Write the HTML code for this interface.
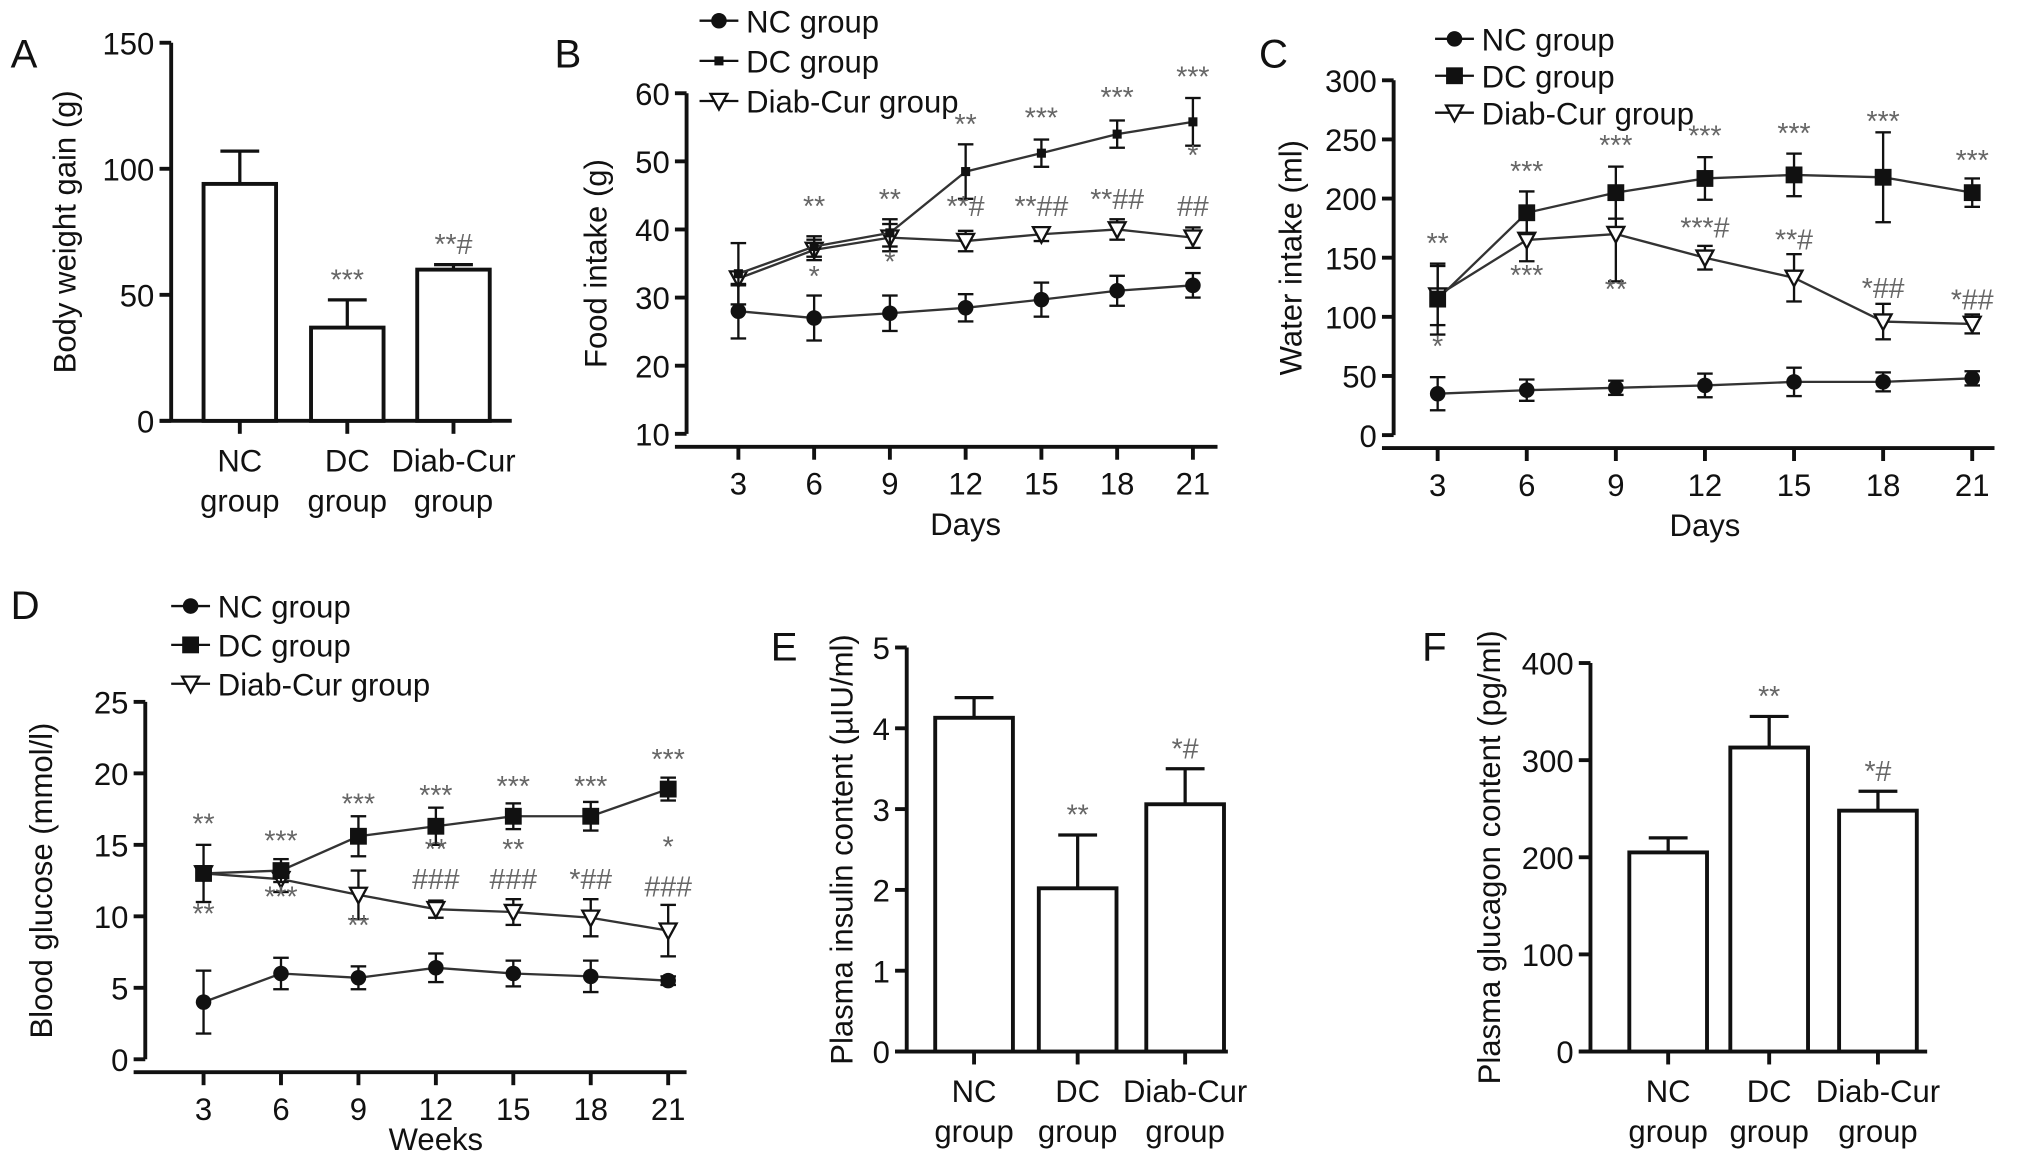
<!DOCTYPE html>
<html><head><meta charset="utf-8"><style>
html,body{margin:0;padding:0;background:#fff}
svg{display:block;font-family:"Liberation Sans",Arial,sans-serif}
</style></head><body>
<svg id="fig" width="2031" height="1159" viewBox="0 0 1568 895" xmlns="http://www.w3.org/2000/svg"></svg>
<script>
// ---- data ----
const barCats = ["NC", "DC", "Diab-Cur"];
const aVals = [94, 37, 60];
const aErrs = [13, 11, 2];
const aAnn = ["", "***", "**#"];
const eVals = [4.13, 2.02, 3.06];
const eErrs = [0.25, 0.66, 0.44];
const eAnn = ["", "**", "*#"];
const fVals = [205, 313, 248];
const fErrs = [15, 32, 20];
const fAnn = ["", "**", "*#"];
const days = [3, 6, 9, 12, 15, 18, 21];
const bNC = [28, 27, 27.7, 28.5, 29.7, 31, 31.8];
const bNCe = [4, 3.3, 2.6, 2, 2.5, 2.2, 1.8];
const bDC = [33.5, 37.5, 39.5, 48.5, 51.2, 54, 55.8];
const bDCe = [4.5, 1.5, 2, 4, 2, 2, 3.5];
const bDCur = [32.8, 37, 38.8, 38.3, 39.3, 40, 38.8];
const bDCure = [1, 1.5, 2, 1.5, 1, 1.5, 1.5];
const cNC = [35, 38, 40, 42, 45, 45, 48];
const cNCe = [14, 9, 6, 10, 12, 8, 6];
const cDC = [115, 188, 205, 217, 220, 218, 205];
const cDCe = [30, 18, 22, 18, 18, 38, 12];
const cDCur = [118, 165, 170, 150, 133, 96, 94];
const cDCure = [25, 18, 40, 10, 20, 15, 8];
const dNC = [4, 6, 5.7, 6.4, 6, 5.8, 5.5];
const dNCe = [2.2, 1.1, 0.8, 1, 0.9, 1.1, 0.3];
const dDC = [13, 13.2, 15.6, 16.3, 17, 17, 18.9];
const dDCe = [2, 0.8, 1.4, 1.3, 0.9, 1, 0.8];
const dDCur = [13, 12.6, 11.5, 10.5, 10.3, 9.9, 9];
const dDCure = [0.4, 0.9, 1.7, 0.6, 0.9, 1.3, 1.8];

const svg = document.getElementById('fig');
const NS = "http://www.w3.org/2000/svg";
const FS = 24;
function mk(tag, at, parent) {
  const e = document.createElementNS(NS, tag);
  for (const k in at) e.setAttribute(k, at[k]);
  (parent || svg).appendChild(e);
  return e;
}
function txt(s, x, y, size, opt, parent) {
  opt = opt || {};
  const t = mk('text', {x: x, y: y, 'font-size': size, fill: opt.fill || '#111', 'text-anchor': opt.anchor || 'middle'}, parent);
  if (opt.rot) t.setAttribute('transform', 'rotate(-90 ' + x + ' ' + y + ')');
  t.textContent = s;
  return t;
}
function line(x1, y1, x2, y2, w, parent) {
  return mk('line', {x1: x1, y1: y1, x2: x2, y2: y2, stroke: '#111', 'stroke-width': w || 2}, parent);
}
function panelLetter(s, x, y) {
  const t = txt(s, x, y, 31, {anchor: 'start'});
  
  
}
function yAxis(g, x, y0, y1, vmin, vmax, ticks, label, lx) {
  const sc = v => y0 - (v - vmin) / (vmax - vmin) * (y0 - y1);
  const ax = mk('g', {}, g);
  
  
  line(x, y0, x, y1, 3, ax);
  ticks.forEach(v => { line(x - 9, sc(v), x, sc(v), 3, ax); txt(String(v), x - 13, sc(v) + 9, FS, {anchor: 'end'}, ax); });
  const t = txt(label, lx, (y0 + y1) / 2, FS, {rot: true}, ax);
  
  
  return sc;
}
function barPanel(name, letter, lx, ly, axX, y0, y1, vmax, ticks, ylabel, ylx, centers, bw, xEnd, vals, errs, ann) {
  panelLetter(letter, lx, ly);
  const g = mk('g', {});
  
  
  const sc = yAxis(g, axX, y0, y1, 0, vmax, ticks, ylabel, ylx);
  line(axX - 9, y0, xEnd, y0, 3, g);
  vals.forEach((v, i) => {
    const c = centers[i];
    const top = sc(v + errs[i]);
    line(c, sc(v), c, top, 2.5, g);
    line(c - 15, top, c + 15, top, 2.5, g);
    const r = mk('rect', {x: c - bw / 2, y: sc(v), width: bw, height: y0 - sc(v), fill: '#fff', stroke: '#111', 'stroke-width': 3}, g);
    
    
    line(c, y0, c, y0 + 10, 3, g);
    const l1 = txt(barCats[i], c, y0 + 39, FS, {}, g);
    
    
    txt('group', c, y0 + 70, FS, {}, g);
    if (ann[i]) txt(ann[i], c, top - 8, 22, {fill: '#666'}, g);
  });
}
function marker(type, x, y, g) {
  if (type === 'circle') return mk('circle', {cx: x, cy: y, r: 6, fill: '#111'}, g);
  if (type === 'square') return mk('rect', {x: x - 6.5, y: y - 6.5, width: 13, height: 13, fill: '#111'}, g);
  if (type === 'smallsq') return mk('rect', {x: x - 3.5, y: y - 3.5, width: 7, height: 7, fill: '#111'}, g);
  return mk('path', {d: `M${x - 6.5} ${y - 5.5} L${x + 6.5} ${y - 5.5} L${x} ${y + 6.5} Z`, fill: '#fff', stroke: '#111', 'stroke-width': 1.8}, g);
}
function series(g, name, xs, sx, vals, errs, sc, mtype) {
  const s = mk('g', {}, g);
  
  
  const pts = vals.map((v, i) => sx(xs[i]) + ',' + sc(v)).join(' ');
  mk('polyline', {points: pts, fill: 'none', stroke: '#333', 'stroke-width': 1.8}, s);
  vals.forEach((v, i) => {
    const x = sx(xs[i]);
    line(x, sc(v - errs[i]), x, sc(v + errs[i]), 1.8, s);
    line(x - 6, sc(v - errs[i]), x + 6, sc(v - errs[i]), 1.8, s);
    line(x - 6, sc(v + errs[i]), x + 6, sc(v + errs[i]), 1.8, s);
    const m = marker(mtype, x, sc(v), s);
    
    
  });
}
function legend(g, x, y, dy, types) {
  const labels = ['NC group', 'DC group', 'Diab-Cur group'];
  labels.forEach((l, i) => {
    const e = mk('g', {}, g);
    
    
    line(x, y + i * dy, x + 30, y + i * dy, 1.8, e);
    marker(types[i], x + 15, y + i * dy, e);
    txt(l, x + 36, y + i * dy + 9, FS, {anchor: 'start'}, e);
  });
}
function linePanel(name, letter, lx, ly, axX, y0, y1, vmin, vmax, ticks, ylabel, ylx, xAxY, x0, xStep, xEnd, xlabel, xlOff, NC, NCe, DC, DCe, DCur, DCure, types, legXY, ann) {
  panelLetter(letter, lx, ly);
  const g = mk('g', {});
  
  
  const sc = yAxis(g, axX, y0, y1, vmin, vmax, ticks, ylabel, ylx);
  const sx = d => x0 + (d - days[0]) / 3 * xStep;
  const xa = mk('g', {}, g);
  
  
  line(axX - 9, xAxY, xEnd, xAxY, 3, xa);
  days.forEach(d => { line(sx(d), xAxY, sx(d), xAxY + 10, 3, xa); txt(String(d), sx(d), xAxY + 37, FS, {}, xa); });
  const xt = txt(xlabel, (sx(3) + sx(21)) / 2, xAxY + xlOff, FS, {}, xa);
  
  
  series(g, 'nc-series', days, sx, NC, NCe, sc, types[0]);
  series(g, 'diab-cur-series', days, sx, DCur, DCure, sc, types[2]);
  series(g, 'dc-series', days, sx, DC, DCe, sc, types[1]);
  legend(g, legXY[0], legXY[1], legXY[2], types);
  ann.forEach(a => txt(a[2], sx(a[0]), sc(a[1]), 22, {fill: '#666'}, g));
}

// A
barPanel('panel-a-body-weight', 'A', 8, 52, 132, 325, 33, 150, [0, 50, 100, 150], 'Body weight gain (g)', 58, [185, 268, 350], 56, 395, aVals, aErrs, aAnn);
// B
linePanel('panel-b-food-intake', 'B', 428, 52, 530, 335, 72, 10, 60, [10, 20, 30, 40, 50, 60], 'Food intake (g)', 468, 345, 570, 58.5, 940, 'Days', 68,
  bNC, bNCe, bDC, bDCe, bDCur, bDCure, ['circle', 'smallsq', 'tri'], [540, 16, 31],
  [[6, 42, '**'], [6, 31.7, '*'], [9, 43, '**'], [9, 33.8, '*'], [12, 54, '**'], [12, 42, '**#'], [15, 55, '***'], [15, 42, '**##'], [18, 58, '***'], [18, 43, '**##'], [21, 61, '***'], [21, 49.5, '*'], [21, 42, '##']]);
// C
linePanel('panel-c-water-intake', 'C', 972, 52, 1076, 336, 62, 0, 300, [0, 50, 100, 150, 200, 250, 300], 'Water intake (ml)', 1005, 346, 1110, 68.8, 1540, 'Days', 68,
  cNC, cNCe, cDC, cDCe, cDCur, cDCure, ['circle', 'square', 'tri'], [1108, 30, 28.5],
  [[3, 154, '**'], [3, 67, '*'], [6, 215, '***'], [6, 127, '***'], [9, 237, '***'], [9, 115, '**'], [12, 245, '***'], [12, 167, '***#'], [15, 247, '***'], [15, 157, '**#'], [18, 257, '***'], [18, 116, '*##'], [21, 224, '***'], [21, 106, '*##']]);
// D
linePanel('panel-d-blood-glucose', 'D', 8, 478, 112, 818, 542, 0, 25, [0, 5, 10, 15, 20, 25], 'Blood glucose (mmol/l)', 40, 828, 157, 59.8, 530, 'Weeks', 60,
  dNC, dNCe, dDC, dDCe, dDCur, dDCure, ['circle', 'square', 'tri'], [132, 468, 30],
  [[3, 15.8, '**'], [3, 9.5, '**'], [6, 14.6, '***'], [6, 10.7, '***'], [9, 17.2, '***'], [9, 8.7, '**'], [12, 17.8, '***'], [12, 14, '**'], [12, 11.9, '###'], [15, 18.4, '***'], [15, 14, '**'], [15, 11.9, '###'], [18, 18.4, '***'], [18, 11.9, '*##'], [21, 20.3, '***'], [21, 14.2, '*'], [21, 11.4, '###']]);
// E
barPanel('panel-e-insulin', 'E', 595, 510, 700, 812, 500, 5, [0, 1, 2, 3, 4, 5], 'Plasma insulin content (µIU/ml)', 658, [752, 832, 915], 60, 948, eVals, eErrs, eAnn);
// F
barPanel('panel-f-glucagon', 'F', 1098, 510, 1228, 812, 512, 400, [0, 100, 200, 300, 400], 'Plasma glucagon content (pg/ml)', 1158, [1288, 1366, 1450], 60, 1488, fVals, fErrs, fAnn);
</script>
</body></html>
